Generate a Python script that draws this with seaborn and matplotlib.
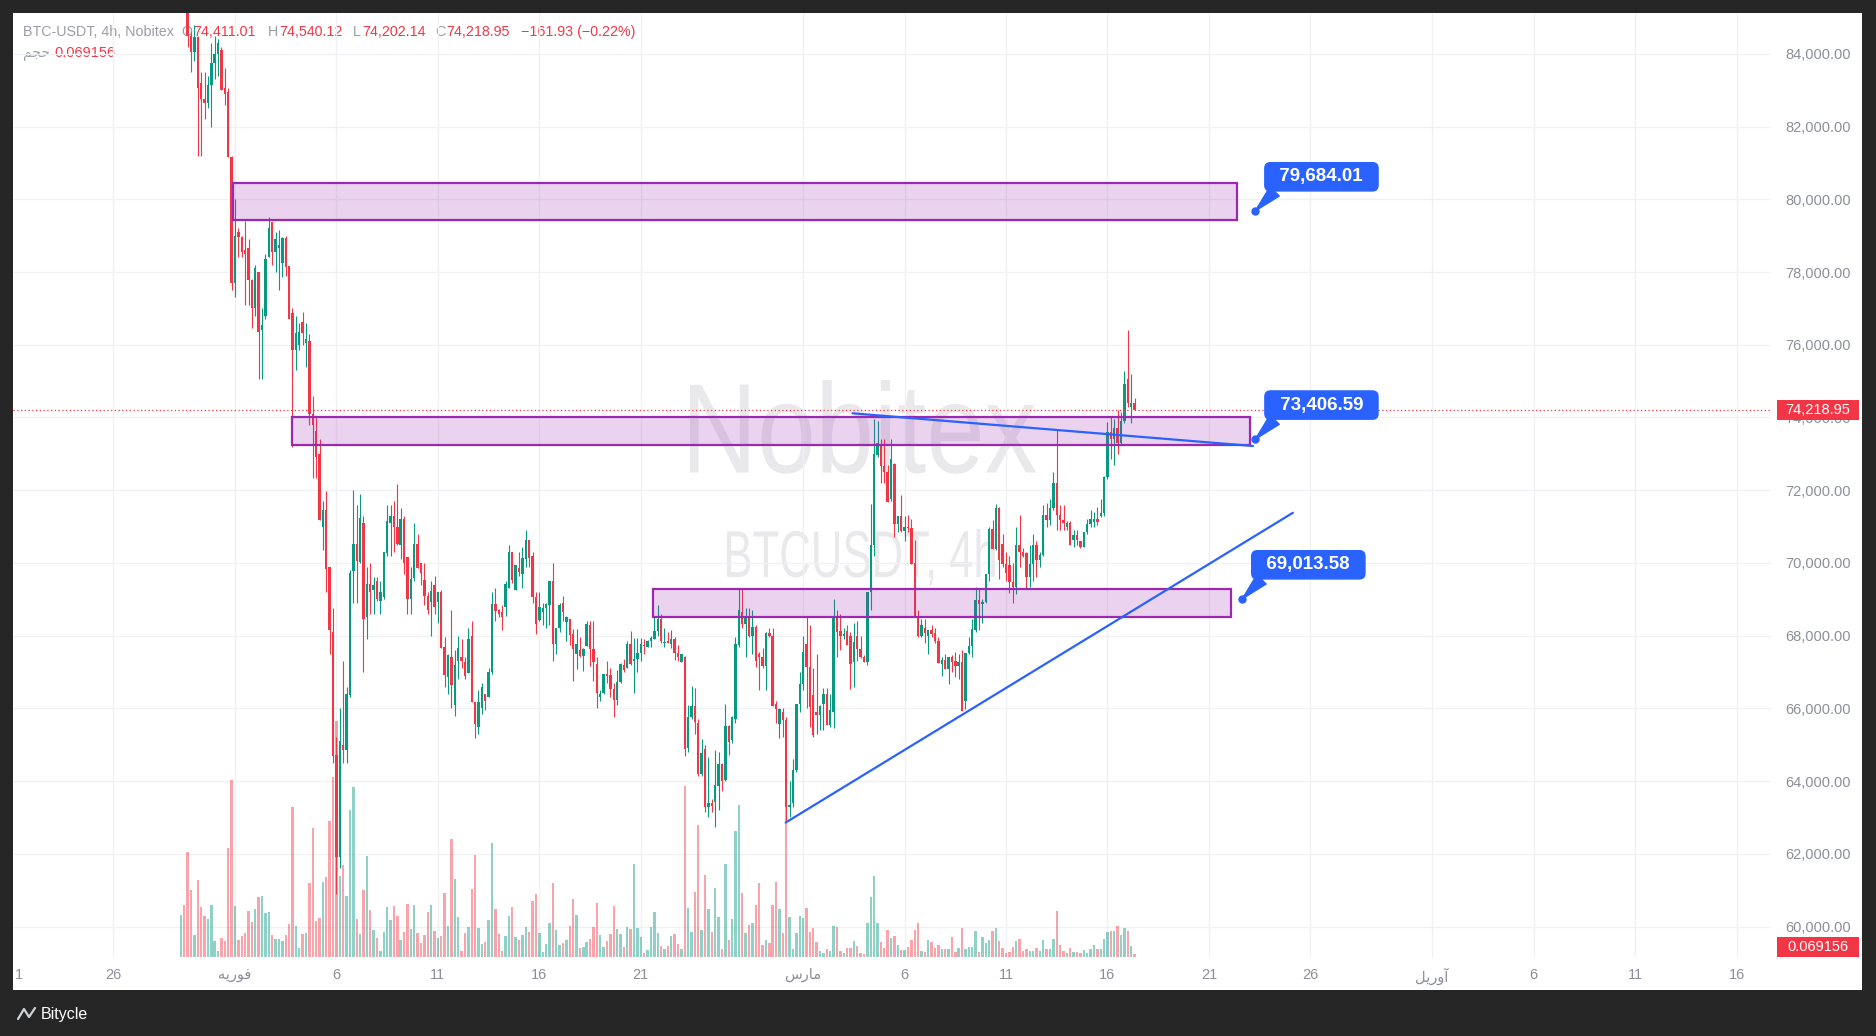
"""
BTC-USDT 4h candlestick chart (Nobitex) with zones, trend lines and price callouts.
"""

import numpy as np
import pandas as pd
import matplotlib
matplotlib.use("Agg")
import matplotlib.pyplot as plt
import matplotlib.dates as mdates
import seaborn as sns
from matplotlib.patches import Rectangle, PathPatch
from matplotlib.lines import Line2D
from matplotlib.textpath import TextPath
from matplotlib.font_manager import FontProperties
from matplotlib.transforms import Affine2D
from matplotlib.ticker import FuncFormatter

# ---- candles: 4h bars, prices in thousands of USDT, first bar 2026-01-29 08:00 ----
FIRST_BAR = "2026-01-29 08:00"

open_k = [
    85.90, 86.20, 85.60, 84.50, 84.06, 84.45, 83.20, 82.75, 82.65, 83.15,
    83.75, 84.00, 84.10, 83.05, 82.95, 81.15, 77.70, 79.10, 78.95, 78.60,
    78.65, 77.78, 77.00, 78.00, 76.40, 76.80, 78.40, 79.37, 78.56, 78.65,
    78.24, 78.94, 78.16, 76.86, 75.85, 76.00, 76.63, 76.05, 76.10, 74.10,
    73.63, 72.99, 70.99, 71.45, 69.90, 68.09, 64.71, 61.90, 65.00, 64.85,
    66.36, 69.78, 70.51, 70.03, 71.11, 68.50, 69.43, 69.25, 69.50, 68.95,
    69.07, 70.28, 71.10, 71.30, 70.99, 70.50, 71.22, 70.15, 69.00, 69.59,
    70.51, 70.00, 69.54, 69.10, 68.93, 69.39, 68.93, 69.20, 67.70, 66.87,
    67.42, 66.10, 67.30, 67.40, 67.27, 66.98, 68.00, 66.17, 65.50, 66.02,
    66.40, 66.30, 67.00, 68.88, 68.70, 68.65, 68.79, 69.30, 70.30, 69.25,
    69.85, 69.70, 70.12, 70.62, 70.18, 69.07, 68.43, 68.66, 68.75, 68.84,
    69.50, 67.76, 68.20, 68.89, 68.38, 68.45, 68.05, 67.49, 67.60, 67.44,
    67.71, 68.29, 67.64, 67.21, 66.31, 66.42, 66.95, 66.91, 66.54, 66.22,
    66.73, 67.20, 67.12, 67.76, 67.30, 67.36, 67.53, 67.75, 67.70, 67.86,
    67.92, 68.12, 68.47, 67.80, 67.86, 67.78, 67.90, 67.52, 67.28, 67.40,
    64.91, 65.75, 66.06, 65.60, 64.19, 64.89, 63.29, 63.40, 63.42, 63.86,
    64.48, 64.02, 65.51, 65.14, 65.72, 67.74, 68.65, 68.33, 68.51, 67.98,
    68.25, 67.49, 67.40, 67.16, 68.06, 68.00, 66.11, 65.58, 65.90, 65.69,
    63.28, 63.40, 64.30, 66.13, 66.66, 67.78, 67.14, 66.36, 65.90, 65.81,
    66.11, 66.40, 65.53, 65.90, 68.50, 68.13, 67.98, 68.13, 67.98, 67.27,
    67.98, 67.64, 67.40, 67.28, 69.20, 70.49, 72.96, 73.27, 72.66, 72.50,
    71.75, 72.71, 71.06, 71.28, 70.88, 71.00, 70.95, 70.00, 68.51, 67.98,
    68.22, 68.00, 68.15, 68.06, 67.85, 67.23, 67.32, 67.09, 67.41, 67.30,
    67.16, 67.28, 66.20, 67.52, 67.71, 68.15, 68.97, 68.88, 68.92, 69.69,
    70.92, 70.37, 71.50, 70.53, 69.96, 69.94, 69.48, 69.35, 70.49, 70.30,
    70.26, 69.60, 69.98, 70.49, 70.09, 70.22, 71.31, 71.19, 71.50, 72.20,
    71.31, 71.19, 71.00, 71.10, 70.64, 70.76, 70.60, 70.44, 70.85, 71.06,
    71.12, 71.22, 71.28, 71.36, 72.37, 73.60, 73.40, 73.70, 73.30, 73.91,
    75.05, 74.30, 74.411,
]
high_k = [
    86.50, 86.40, 85.90, 84.60, 84.80, 84.50, 83.50, 83.50, 83.40, 84.30,
    84.50, 84.40, 84.20, 83.60, 83.05, 81.20, 80.00, 79.20, 79.00, 79.40,
    78.90, 77.80, 78.20, 78.00, 77.00, 78.50, 79.50, 79.37, 79.10, 79.15,
    78.95, 79.00, 78.16, 77.00, 76.80, 76.60, 76.90, 76.60, 76.30, 74.60,
    74.00, 73.40, 71.70, 71.98, 69.90, 68.75, 65.20, 66.00, 67.30, 66.60,
    69.80, 72.00, 71.60, 71.90, 71.30, 69.90, 70.00, 69.60, 69.60, 69.50,
    70.30, 71.60, 71.60, 71.70, 72.17, 71.50, 71.30, 70.15, 69.90, 71.10,
    70.80, 70.00, 70.00, 69.20, 69.50, 69.65, 69.20, 69.25, 67.95, 67.50,
    68.70, 67.60, 68.00, 67.90, 67.40, 68.20, 68.40, 66.17, 66.50, 66.70,
    66.40, 67.10, 69.20, 69.30, 68.72, 68.85, 69.50, 70.50, 70.30, 69.95,
    70.30, 70.45, 70.90, 70.62, 70.30, 69.20, 69.20, 68.90, 68.90, 69.50,
    70.00, 68.20, 68.90, 69.10, 68.55, 68.45, 68.18, 68.19, 67.95, 67.65,
    68.40, 68.40, 68.40, 67.40, 66.50, 66.95, 67.30, 67.10, 66.70, 67.05,
    67.25, 67.35, 67.85, 68.12, 67.94, 67.94, 67.94, 67.92, 67.88, 68.00,
    68.50, 68.84, 68.60, 68.20, 68.10, 68.15, 67.95, 67.75, 67.50, 67.43,
    66.10, 66.61, 66.55, 65.70, 65.15, 65.00, 64.65, 63.50, 64.85, 64.80,
    64.50, 66.11, 65.55, 65.80, 67.96, 69.30, 69.30, 68.77, 68.75, 68.70,
    68.30, 67.55, 67.65, 68.10, 68.20, 68.20, 66.20, 66.00, 66.00, 65.75,
    64.00, 64.60, 66.13, 67.00, 68.00, 68.50, 68.30, 67.10, 67.50, 66.10,
    66.55, 66.55, 66.40, 69.00, 68.70, 68.60, 68.20, 68.30, 68.10, 68.35,
    68.40, 68.00, 67.46, 69.20, 71.63, 73.97, 73.90, 73.40, 73.42, 72.70,
    73.40, 72.75, 71.30, 71.86, 71.30, 71.31, 71.20, 70.62, 68.70, 68.45,
    68.45, 68.15, 68.30, 68.20, 67.95, 67.40, 67.50, 67.41, 67.46, 67.55,
    67.50, 67.60, 67.53, 67.95, 68.45, 69.34, 69.30, 69.00, 69.70, 71.00,
    71.19, 71.62, 71.55, 70.80, 70.30, 70.20, 70.00, 71.00, 71.31, 70.40,
    70.30, 70.50, 70.80, 70.60, 70.30, 71.60, 71.65, 71.75, 72.50, 73.67,
    71.60, 71.60, 71.15, 71.15, 70.90, 70.90, 70.60, 70.85, 71.20, 71.45,
    71.40, 71.55, 71.75, 72.40, 73.88, 74.00, 73.95, 74.20, 74.15, 75.28,
    76.40, 75.20, 74.540,
]
low_k = [
    85.50, 85.30, 84.20, 83.50, 83.80, 81.20, 81.20, 82.20, 82.50, 82.00,
    83.30, 83.40, 83.00, 82.60, 81.15, 77.50, 77.30, 78.40, 78.40, 77.10,
    77.10, 76.46, 76.80, 75.05, 75.05, 76.70, 78.40, 78.20, 78.00, 77.50,
    77.85, 77.90, 76.70, 73.20, 75.30, 75.85, 76.00, 75.40, 73.80, 72.33,
    72.33, 71.17, 70.35, 69.20, 67.50, 64.50, 60.90, 61.60, 64.50, 64.50,
    66.30, 68.90, 68.90, 70.00, 67.00, 67.90, 68.60, 68.60, 68.95, 68.60,
    69.00, 70.20, 70.20, 70.30, 70.50, 70.10, 69.70, 68.60, 68.60, 69.50,
    69.87, 69.40, 68.85, 68.60, 68.00, 68.60, 68.35, 67.67, 66.60, 66.40,
    66.00, 65.80, 66.80, 67.10, 66.80, 66.98, 66.17, 65.19, 65.30, 65.85,
    65.95, 66.30, 66.95, 68.40, 68.50, 68.15, 68.55, 69.30, 69.45, 69.25,
    69.65, 69.30, 69.90, 69.90, 68.90, 68.05, 68.40, 68.30, 68.20, 68.30,
    67.30, 67.50, 68.10, 68.40, 67.84, 67.74, 66.75, 67.07, 67.40, 67.03,
    67.71, 67.17, 66.76, 66.02, 66.20, 66.40, 66.70, 66.30, 65.76, 66.10,
    66.70, 67.00, 67.10, 67.20, 66.43, 67.00, 67.30, 67.50, 67.70, 67.70,
    67.92, 68.00, 67.80, 67.70, 67.80, 67.65, 67.32, 67.30, 67.28, 64.70,
    64.80, 65.70, 65.30, 64.15, 64.15, 63.14, 63.00, 63.15, 62.75, 63.20,
    63.72, 64.00, 64.71, 65.05, 65.60, 67.70, 68.20, 67.41, 67.95, 67.50,
    67.14, 66.50, 67.10, 66.50, 67.95, 66.07, 65.60, 65.19, 65.20, 62.90,
    63.00, 63.30, 64.25, 65.90, 66.50, 66.00, 65.50, 65.20, 65.30, 65.40,
    65.40, 65.53, 65.50, 65.45, 67.40, 67.60, 67.90, 67.74, 66.54, 66.60,
    67.30, 67.38, 67.28, 67.20, 68.70, 70.20, 72.90, 72.20, 72.20, 71.68,
    71.70, 70.70, 70.85, 70.85, 70.60, 70.85, 69.96, 68.50, 67.95, 67.95,
    67.80, 67.50, 67.95, 67.80, 67.25, 66.90, 67.09, 66.68, 67.00, 66.85,
    66.80, 65.93, 65.99, 67.50, 67.40, 68.10, 68.15, 68.35, 68.90, 69.50,
    70.37, 70.35, 69.57, 69.90, 69.50, 69.16, 68.90, 69.14, 69.90, 70.15,
    69.30, 69.35, 69.50, 69.60, 69.90, 70.20, 71.00, 71.05, 71.45, 70.90,
    70.90, 70.90, 70.90, 70.49, 70.45, 70.49, 70.40, 70.44, 70.80, 71.00,
    71.00, 71.05, 71.25, 71.30, 72.30, 72.87, 72.70, 73.00, 73.25, 73.85,
    74.30, 73.85, 74.202,
]
close_k = [
    86.20, 85.60, 84.50, 84.06, 84.45, 83.05, 82.75, 82.65, 83.15, 83.75,
    84.00, 84.30, 83.00, 82.90, 81.15, 77.70, 79.00, 78.95, 78.55, 78.50,
    77.78, 77.00, 78.10, 76.36, 76.55, 78.35, 79.20, 78.56, 78.90, 78.75,
    78.94, 78.15, 76.70, 75.85, 76.33, 76.36, 76.33, 76.15, 74.10, 73.79,
    72.92, 71.17, 71.45, 69.84, 68.15, 64.68, 61.90, 65.10, 64.85, 66.40,
    69.73, 70.51, 70.05, 71.24, 68.47, 69.43, 69.20, 69.40, 69.00, 69.20,
    70.29, 71.15, 71.30, 71.00, 70.51, 71.20, 70.00, 69.00, 69.55, 70.51,
    69.87, 69.72, 69.09, 68.70, 69.22, 68.79, 69.20, 67.67, 66.93, 67.46,
    66.64, 67.20, 67.66, 67.30, 66.88, 67.92, 66.17, 65.56, 66.17, 66.60,
    66.20, 67.00, 68.88, 68.68, 68.60, 68.50, 69.41, 70.30, 69.52, 69.93,
    69.75, 70.14, 70.62, 70.14, 69.06, 68.32, 68.80, 68.76, 68.86, 69.50,
    67.76, 68.20, 68.83, 68.65, 68.51, 68.03, 67.62, 67.76, 67.45, 67.62,
    68.31, 67.64, 67.28, 66.41, 66.39, 66.94, 66.90, 66.54, 66.24, 66.72,
    67.23, 67.05, 67.76, 67.21, 67.36, 67.52, 67.78, 67.72, 67.86, 67.94,
    68.12, 68.47, 67.86, 67.83, 67.80, 67.90, 67.52, 67.40, 67.49, 64.87,
    65.75, 66.06, 65.63, 64.19, 64.76, 63.29, 63.40, 63.32, 63.88, 64.48,
    64.00, 65.51, 65.07, 65.75, 67.76, 68.70, 68.33, 68.51, 67.98, 68.25,
    67.30, 67.40, 67.16, 68.06, 68.00, 66.07, 65.99, 65.97, 65.69, 63.28,
    63.33, 64.30, 66.13, 66.68, 67.55, 67.14, 66.04, 65.26, 65.81, 66.06,
    66.40, 65.53, 65.95, 68.51, 68.10, 67.98, 68.05, 67.74, 67.21, 67.82,
    67.64, 67.40, 67.28, 69.20, 70.49, 72.99, 73.30, 72.66, 72.50, 71.68,
    72.87, 71.06, 71.28, 70.88, 71.00, 70.95, 69.96, 68.51, 67.98, 68.28,
    68.07, 68.15, 68.05, 67.85, 67.25, 67.32, 67.09, 67.41, 67.28, 67.16,
    67.28, 65.93, 67.53, 67.71, 68.17, 68.97, 68.88, 68.92, 69.69, 70.92,
    70.37, 71.50, 70.07, 69.96, 69.72, 69.48, 69.35, 70.49, 70.30, 70.20,
    69.60, 69.98, 70.49, 70.09, 70.22, 71.31, 71.19, 71.50, 72.20, 71.31,
    71.19, 71.10, 71.10, 70.49, 70.76, 70.64, 70.44, 70.85, 71.06, 71.22,
    71.20, 71.12, 71.36, 72.37, 73.60, 73.40, 73.70, 73.30, 73.91, 74.92,
    74.40, 74.41, 74.219,
]
volume = [
    125, 155, 314, 200, 65, 230, 149, 122, 113, 155,
    47, 17, 56, 47, 326, 530, 152, 50, 62, 71,
    137, 104, 143, 179, 182, 131, 134, 65, 53, 53,
    47, 65, 98, 449, 92, 26, 68, 71, 221, 386,
    107, 116, 224, 239, 407, 539, 708, 242, 275, 182,
    440, 509, 113, 68, 200, 302, 140, 80, 56, 17,
    74, 149, 110, 152, 122, 50, 74, 158, 83, 155,
    71, 41, 65, 134, 155, 77, 56, 62, 191, 92,
    353, 233, 119, 17, 71, 89, 203, 305, 86, 38,
    44, 110, 341, 143, 68, 17, 62, 122, 149, 59,
    50, 65, 89, 74, 167, 188, 71, 14, 38, 101,
    221, 80, 35, 41, 50, 92, 173, 125, 26, 29,
    44, 53, 89, 161, 65, 29, 47, 68, 152, 83,
    68, 29, 89, 83, 278, 86, 59, 11, 20, 89,
    134, 71, 32, 23, 32, 62, 68, 38, 23, 512,
    146, 74, 194, 395, 80, 245, 143, 74, 206, 119,
    23, 278, 50, 113, 377, 455, 191, 71, 95, 101,
    155, 221, 35, 50, 41, 155, 224, 143, 71, 450,
    120, 23, 71, 122, 116, 146, 74, 86, 44, 17,
    11, 23, 17, 92, 90, 17, 11, 26, 26, 47,
    33, 11, 8, 101, 179, 242, 101, 44, 26, 80,
    56, 63, 35, 20, 20, 29, 50, 80, 101, 17,
    14, 50, 44, 26, 35, 23, 23, 23, 59, 14,
    26, 86, 23, 29, 29, 77, 14, 59, 41, 50,
    77, 86, 47, 26, 11, 14, 29, 47, 53, 17,
    23, 17, 17, 26, 17, 50, 23, 23, 53, 137,
    35, 17, 11, 26, 14, 14, 11, 20, 11, 23,
    35, 23, 23, 53, 74, 78, 77, 92, 65, 86,
    77, 32, 8,
]

# ---- drawings ----
zone_start = ["2026-01-31 22:00", "2026-02-03 20:00", "2026-02-21 15:00"]
zone_end = ["2026-03-22 09:30", "2026-03-23 00:00", "2026-03-22 02:00"]
zone_low_k = [79.43, 73.24, 68.50]
zone_high_k = [80.46, 74.02, 69.27]

trend_start = ["2026-03-03 10:30", "2026-02-28 03:20"]
trend_end = ["2026-03-23 04:00", "2026-03-25 03:20"]
trend_start_k = [74.115, 62.86]
trend_end_k = [73.216, 71.38]

callout_time = ["2026-03-23 07:00", "2026-03-23 07:00", "2026-03-22 15:30"]
callout_k = [79.68401, 73.40659, 69.01358]

last_close_k = 74.21895
price_ticks_k = list(range(60, 85, 2))

# month names in Persian, given as presentation forms in visual order
FEB = "\uFEEA\uFEF3\uFEAD\uFEEE\uFED3"
MAR = "\uFEB1\uFEAD\uFE8E\uFEE3"
APR = "\uFEDE\uFEF3\uFEAD\uFEED\uFE81"
VOL = "\uFEE2\uFEA0\uFEA3"

date_ticks = ["2026-01-26", "2026-02-01", "2026-02-06", "2026-02-11", "2026-02-16",
              "2026-02-21", "2026-03-01", "2026-03-06", "2026-03-11", "2026-03-16",
              "2026-03-21", "2026-03-26", "2026-04-01", "2026-04-06", "2026-04-11",
              "2026-04-16"]
date_labels = ["26", FEB, "6", "11", "16", "21", MAR, "6", "11", "16", "21", "26",
               APR, "6", "11", "16"]

# ---- style ----
GREEN, RED, BLUE, PURPLE = "#089981", "#f23645", "#2962ff", "#9c27b0"
GRID, AXIS_TXT, FRAME = "#f0f1f4", "#8c8f97", "#262626"

W, H = 1876, 1036
sns.set_theme(style="white")
plt.rcParams["font.family"] = ["Liberation Sans", "DejaVu Sans"]

fig = plt.figure(figsize=(W / 100, H / 100), dpi=100, facecolor="white")


def fx(px):
    return px / W


def fy(py):
    return 1 - py / H


LEFT, RIGHT, TOP, BOTTOM = 13, 1771, 12.7, 957
pos = [fx(LEFT), fy(BOTTOM), fx(RIGHT) - fx(LEFT), fy(TOP) - fy(BOTTOM)]
gax = fig.add_axes(pos, zorder=0)   # grid
vax = fig.add_axes(pos, zorder=1)   # volume
ax = fig.add_axes(pos, zorder=2)    # candles + drawings
for a in (gax, vax, ax):
    a.patch.set_visible(False)

feb1 = mdates.date2num(pd.Timestamp("2026-02-01"))
xlim = (feb1 - 10.94, feb1 + 75.70)
ylim = (59.163, 85.132)

times = pd.date_range(FIRST_BAR, periods=len(close_k), freq="4h")
t = mdates.date2num(times)
o, hi, lo, c = (np.array(v) for v in (open_k, high_k, low_k, close_k))
colors = np.where(c >= o, GREEN, RED)

# grid layer
xt = mdates.date2num(pd.to_datetime(date_ticks))
gax.set_xlim(xlim)
gax.set_ylim(ylim)
gax.set_xticks(xt)
gax.set_yticks(price_ticks_k)
gax.grid(True, color=GRID, lw=1)
gax.tick_params(labelbottom=False, labelleft=False, length=0)

# volume layer
vax.bar(t, volume, width=0.118, color=colors, alpha=0.45, linewidth=0)
vax.set_xlim(xlim)
vax.set_ylim(0, 3 * (BOTTOM - TOP))
vax.axis("off")

# candles
ax.vlines(t, lo, hi, colors=colors, lw=0.8, zorder=2)
body = np.maximum(np.abs(c - o), 0.03)
ax.bar(t, body, bottom=np.minimum(o, c), width=0.118, color=colors, linewidth=0, zorder=3)
ax.set_xlim(xlim)
ax.set_ylim(ylim)

# zones
for s, e, zl, zh in zip(zone_start, zone_end, zone_low_k, zone_high_k):
    x0 = mdates.date2num(pd.Timestamp(s))
    x1 = mdates.date2num(pd.Timestamp(e))
    ax.add_patch(Rectangle((x0, zl), x1 - x0, zh - zl, fc=PURPLE, alpha=0.2, ec="none", zorder=4))
    ax.add_patch(Rectangle((x0, zl), x1 - x0, zh - zl, fc="none", ec=PURPLE, lw=1.6, zorder=4))

# trend lines
for s, e, ps, pe in zip(trend_start, trend_end, trend_start_k, trend_end_k):
    xs = mdates.date2num(pd.to_datetime([s, e]))
    ax.plot(xs, [ps, pe], color=BLUE, lw=1.6, solid_capstyle="round", zorder=5)

# last price line
ax.axhline(last_close_k, color=RED, lw=0.9, ls=(0, (1, 2)), zorder=5)

# callouts
for tt, v in zip(callout_time, callout_k):
    xd = mdates.date2num(pd.Timestamp(tt))
    ax.annotate(f"\u2002{v * 1000:,.2f}\u2002", xy=(xd, v), xytext=(66, 34),
                textcoords="offset pixels", ha="center", va="center", color="white",
                fontsize=13.5, fontweight="bold",
                bbox=dict(boxstyle="round,pad=0.3,rounding_size=0.3", fc=BLUE, ec=BLUE, lw=1),
                arrowprops=dict(arrowstyle="wedge,tail_width=0.7,shrink_factor=0.5",
                                fc=BLUE, ec=BLUE, relpos=(0.1, 0.0), shrinkA=0, shrinkB=0),
                zorder=8, annotation_clip=False)
    ax.plot(xd, v, "o", ms=5, color=BLUE, zorder=9)

# axes / ticks
ax.yaxis.tick_right()
ax.set_yticks(price_ticks_k)
ax.yaxis.set_major_formatter(FuncFormatter(lambda v, _: f"{v * 1000:,.2f}"))
ax.set_xticks(xt)
ax.set_xticklabels(date_labels)
ax.tick_params(axis="y", length=0, pad=10, labelsize=10.5, labelcolor=AXIS_TXT)
ax.tick_params(axis="x", length=0, pad=8, labelsize=10.5, labelcolor=AXIS_TXT)
ax.grid(False)
sns.despine(fig=fig, left=True, bottom=True)


# watermark
def watermark(text, x0, x1, y_top, y_base):
    path = TextPath((0, 0), text, size=100, prop=FontProperties(family="Liberation Sans"))
    ext = path.get_extents()
    sx = (x1 - x0) / ext.width
    sy = (y_base - y_top) / ext.y1
    tr = Affine2D().translate(-ext.x0, 0).scale(sx, sy).translate(x0, H - y_base)
    fig.add_artist(PathPatch(path, transform=tr, fc="#e9e9eb", ec="none", zorder=-1))


watermark("Nobitex", 690, 1036, 380, 472.5)
watermark("BTCUSDT, 4h", 727, 995, 529, 577)

# header
hdr_y = fy(32)
GRAY_HDR = "#9a9da5"
header = [(23, "BTC-USDT, 4h, Nobitex", GRAY_HDR), (181, "O", GRAY_HDR), (193, "74,411.01", RED),
          (268, "H", GRAY_HDR), (279, "74,540.12", RED), (353, "L", GRAY_HDR),
          (362, "74,202.14", RED), (435, "C", GRAY_HDR), (446, "74,218.95", RED),
          (521, "\u2212161.93 (\u22120.22%)", RED)]
for xp, txt, col in header:
    fig.text(fx(xp), hdr_y, txt, color=col, fontsize=10.3, va="center", ha="left", zorder=-0.5)
fig.text(fx(23), fy(53), VOL, color=GRAY_HDR, fontsize=10, va="center", ha="left", zorder=-0.5)
fig.text(fx(54), fy(53), "0.069156", color=RED, fontsize=10.5, va="center", ha="left", zorder=-0.5)

# cut-off "21" label at the left edge
fig.text(fx(15), fy(975), "1", color=AXIS_TXT, fontsize=10.5, va="center", ha="left")


# price tags on the axis
def tag(y_center, text):
    fig.add_artist(Rectangle((fx(1777), fy(y_center + 10)), fx(1859) - fx(1777), 20 / H,
                             transform=fig.transFigure, fc=RED, ec="none", zorder=5))
    fig.text(fx(1818), fy(y_center), text, color="white", fontsize=10.5,
             ha="center", va="center", zorder=6)


y_last = H - ax.transData.transform((xlim[0], last_close_k))[1]
tag(y_last, "74,218.95")
tag(947, "0.069156")

# dark frame
for x0, y0, x1, y1 in [(0, 0, W, TOP), (0, 0, LEFT, H), (1862, 0, W, H), (0, 990, W, H)]:
    fig.add_artist(Rectangle((fx(x0), fy(y1)), fx(x1) - fx(x0), (y1 - y0) / H,
                             transform=fig.transFigure, fc=FRAME, ec="none", zorder=10))

# footer logo
fig.add_artist(Line2D([fx(18), fx(24), fx(29), fx(35)], [fy(1019), fy(1009), fy(1017), fy(1008)],
                      transform=fig.transFigure, color="#cfd2d6", lw=1.6, zorder=11))
fig.text(fx(41), fy(1014), "Bitycle", color="white", fontsize=11.5, va="center", ha="left", zorder=11)

fig.savefig("out.png", dpi=100, facecolor="white")
